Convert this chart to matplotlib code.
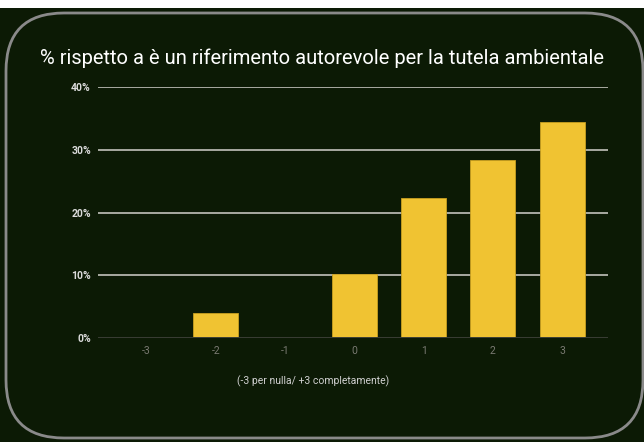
# punteggi -3..+3, percentuale di risposte
import numpy as np
import matplotlib.pyplot as plt
from matplotlib.patches import FancyBboxPatch, Rectangle

plt.rcParams['font.family'] = ['Roboto', 'DejaVu Sans']

punteggi = ['-3', '-2', '-1', '0', '1', '2', '3']
percentuali = [0, 4.0, 0, 10.2, 22.3, 28.4, 34.5]

sfondo = '#0c1a05'
giallo = '#f0c332'

fig = plt.figure(figsize=(6.44, 4.42), dpi=100, facecolor=sfondo)

# striscia bianca in alto e bordo arrotondato
fig.patches.append(Rectangle((0, 434 / 442), 1, 8 / 442, transform=fig.transFigure,
                             facecolor='white', edgecolor='none', zorder=0))
bordo = FancyBboxPatch((6, 4), 637, 425, boxstyle='round,pad=0,rounding_size=58',
                       transform=None, facecolor='none', edgecolor='#8a8a8a',
                       linewidth=2, zorder=1)
fig.patches.append(bordo)

ax = fig.add_axes([0.152, 0.2353, 0.792, 0.567])
ax.set_facecolor(sfondo)

x = np.arange(len(punteggi))
ax.bar(x, percentuali, width=0.65, color=giallo, edgecolor='#c9a020',
       linewidth=0.6, zorder=3)

ax.set_xlim(-0.7, 6.66)
ax.set_ylim(0, 40)
ax.set_yticks([0, 10, 20, 30, 40])
ax.set_yticklabels(['0%', '10%', '20%', '30%', '40%'], color='#dcdcdc',
                   fontsize=7.5, fontweight='bold')
ax.set_xticks(x)
ax.set_xticklabels(punteggi, color='#7a7a72', fontsize=7.5)
ax.tick_params(length=0, pad=6)
ax.tick_params(axis='y', pad=5)

for y in [10, 20, 30, 40]:
    ax.axhline(y, color='#a9aaa2', linewidth=1.4, zorder=1)
ax.axhline(0, color='#3a3d35', linewidth=1.4, zorder=4)

for s in ax.spines.values():
    s.set_visible(False)

fig.text(313 / 644, 1 - 381 / 442, '(-3 per nulla/ +3 completamente)', color='#d0d0d0',
         fontsize=7.5, ha='center', va='center')

fig.text(322 / 644, 0.869, '% rispetto a è un riferimento autorevole per la tutela ambientale',
         ha='center', va='center', color='white', fontsize=14.5)

fig.savefig('out.png', dpi=100, facecolor=sfondo)
